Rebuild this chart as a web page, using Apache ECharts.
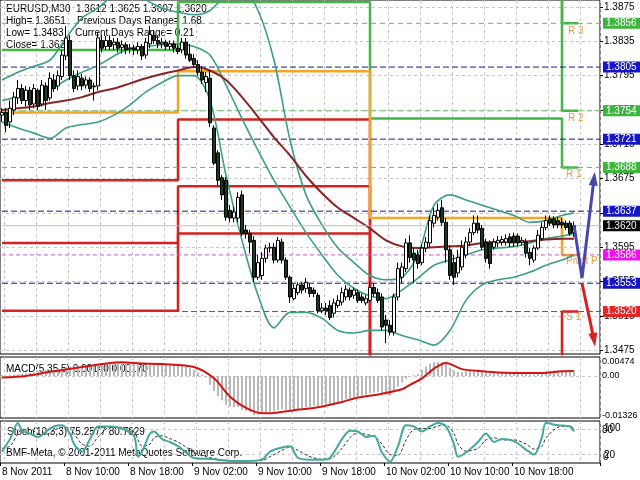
<!DOCTYPE html>
<html><head><meta charset="utf-8">
<script src="https://cdn.jsdelivr.net/npm/echarts@6/dist/echarts.min.js"></script>
<style>html,body{margin:0;padding:0;background:#fff}#c{width:640px;height:480px}</style>
</head><body><div id="c"></div>
<script>
const FONT = '"Liberation Sans", Arial, sans-serif';
// ---- candles (EURUSD M30) ----
const opens=[1.3749,1.3752,1.3741,1.3755,1.3769,1.3780,1.3766,1.3778,1.3762,1.3778,1.3762,1.3783,1.3769,1.3790,1.3783,1.3794,1.3818,1.3836,1.3795,1.3783,1.3792,1.3784,1.3790,1.3782,1.3783,1.3836,1.3829,1.3836,1.3831,1.3834,1.3828,1.3831,1.3826,1.3827,1.3825,1.3829,1.3819,1.3832,1.3842,1.3836,1.3832,1.3834,1.3829,1.3832,1.3827,1.3825,1.3834,1.3820,1.3815,1.3808,1.3799,1.3787,1.3792,1.3734,1.3705,1.3676,1.3673,1.3638,1.3629,1.3629,1.3656,1.3615,1.3611,1.3603,1.3560,1.3562,1.3582,1.3594,1.3595,1.3580,1.3601,1.3580,1.3560,1.3535,1.3542,1.3551,1.3547,1.3548,1.3545,1.3539,1.3521,1.3524,1.3527,1.3518,1.3527,1.3531,1.3537,1.3545,1.3539,1.3542,1.3537,1.3530,1.3533,1.3548,1.3542,1.3537,1.3510,1.3504,1.3496,1.3537,1.3560,1.3570,1.3600,1.3588,1.3586,1.3577,1.3594,1.3600,1.3623,1.3630,1.3641,1.3624,1.3592,1.3577,1.3565,1.3572,1.3586,1.3601,1.3612,1.3623,1.3617,1.3601,1.3600,1.3595,1.3600,1.3601,1.3601,1.3607,1.3608,1.3608,1.3601,1.3601,1.3589,1.3580,1.3594,1.3605,1.3618,1.3628,1.3628,1.3626,1.3624,1.3623,1.3623,1.3612];
const closes=[1.3752,1.3737,1.3757,1.3770,1.3780,1.3766,1.3778,1.3761,1.3780,1.3759,1.3784,1.3766,1.3792,1.3780,1.3795,1.3819,1.3839,1.3795,1.3780,1.3794,1.3783,1.3790,1.3780,1.3783,1.3839,1.3827,1.3836,1.3829,1.3834,1.3827,1.3831,1.3825,1.3827,1.3825,1.3829,1.3818,1.3834,1.3843,1.3836,1.3832,1.3834,1.3829,1.3832,1.3827,1.3823,1.3834,1.3819,1.3813,1.3808,1.3799,1.3790,1.3794,1.3740,1.3693,1.3673,1.3656,1.3630,1.3629,1.3636,1.3653,1.3611,1.3611,1.3601,1.3560,1.3577,1.3582,1.3594,1.3595,1.3580,1.3603,1.3580,1.3560,1.3537,1.3547,1.3551,1.3545,1.3554,1.3541,1.3541,1.3521,1.3524,1.3521,1.3513,1.3530,1.3533,1.3542,1.3546,1.3537,1.3545,1.3533,1.3533,1.3535,1.3548,1.3541,1.3533,1.3502,1.3504,1.3496,1.3537,1.3570,1.3572,1.3600,1.3583,1.3580,1.3576,1.3594,1.3601,1.3626,1.3632,1.3638,1.3624,1.3592,1.3562,1.3560,1.3583,1.3595,1.3601,1.3612,1.3623,1.3615,1.3595,1.3582,1.3576,1.3601,1.3603,1.3604,1.3605,1.3600,1.3600,1.3600,1.3603,1.3588,1.3582,1.3594,1.3609,1.3618,1.3626,1.3623,1.3621,1.3621,1.3621,1.3618,1.3611,1.3620];
const lows=[1.3741,1.3729,1.3734,1.3749,1.3762,1.3762,1.3759,1.3755,1.3757,1.3755,1.3759,1.3755,1.3766,1.3776,1.3778,1.3790,1.3813,1.3790,1.3776,1.3778,1.3778,1.3780,1.3776,1.3766,1.3778,1.3822,1.3825,1.3825,1.3825,1.3822,1.3821,1.3820,1.3821,1.3819,1.3820,1.3813,1.3815,1.3827,1.3832,1.3827,1.3827,1.3825,1.3825,1.3822,1.3820,1.3821,1.3815,1.3811,1.3804,1.3795,1.3785,1.3776,1.3735,1.3691,1.3667,1.3650,1.3626,1.3624,1.3624,1.3624,1.3608,1.3605,1.3588,1.3554,1.3557,1.3557,1.3577,1.3589,1.3576,1.3577,1.3576,1.3557,1.3530,1.3533,1.3539,1.3541,1.3542,1.3537,1.3537,1.3518,1.3518,1.3516,1.3510,1.3513,1.3524,1.3527,1.3533,1.3533,1.3535,1.3530,1.3530,1.3527,1.3531,1.3537,1.3530,1.3498,1.3483,1.3492,1.3492,1.3533,1.3553,1.3566,1.3577,1.3553,1.3570,1.3574,1.3589,1.3595,1.3618,1.3626,1.3620,1.3577,1.3557,1.3551,1.3560,1.3568,1.3582,1.3597,1.3609,1.3611,1.3592,1.3577,1.3570,1.3592,1.3595,1.3597,1.3597,1.3595,1.3595,1.3596,1.3597,1.3583,1.3574,1.3577,1.3592,1.3603,1.3615,1.3620,1.3617,1.3617,1.3617,1.3615,1.3608,1.3607];
const highs=[1.3757,1.3757,1.3766,1.3776,1.3790,1.3785,1.3783,1.3782,1.3785,1.3780,1.3790,1.3787,1.3799,1.3797,1.3801,1.3825,1.3853,1.3842,1.3801,1.3801,1.3797,1.3794,1.3793,1.3787,1.3846,1.3842,1.3841,1.3842,1.3839,1.3839,1.3836,1.3834,1.3832,1.3831,1.3834,1.3832,1.3839,1.3853,1.3848,1.3841,1.3839,1.3837,1.3836,1.3836,1.3831,1.3839,1.3839,1.3832,1.3820,1.3813,1.3806,1.3799,1.3801,1.3737,1.3708,1.3679,1.3677,1.3644,1.3642,1.3659,1.3661,1.3621,1.3615,1.3608,1.3586,1.3589,1.3598,1.3600,1.3600,1.3607,1.3605,1.3583,1.3562,1.3552,1.3554,1.3554,1.3559,1.3553,1.3548,1.3542,1.3530,1.3530,1.3533,1.3535,1.3539,1.3548,1.3551,1.3548,1.3548,1.3546,1.3541,1.3539,1.3554,1.3553,1.3547,1.3541,1.3516,1.3510,1.3541,1.3577,1.3577,1.3605,1.3609,1.3594,1.3592,1.3598,1.3607,1.3632,1.3641,1.3646,1.3650,1.3629,1.3597,1.3586,1.3592,1.3603,1.3607,1.3617,1.3632,1.3632,1.3621,1.3605,1.3603,1.3605,1.3608,1.3608,1.3610,1.3611,1.3612,1.3611,1.3607,1.3605,1.3594,1.3597,1.3615,1.3624,1.3632,1.3632,1.3631,1.3630,1.3629,1.3626,1.3626,1.3625];
const timeLabels=['8 Nov 2011','8 Nov 10:00','8 Nov 18:00','9 Nov 02:00','9 Nov 10:00','9 Nov 18:00','10 Nov 02:00','10 Nov 10:00','10 Nov 18:00'];
const priceTicks=[1.3475,1.3515,1.3555,1.3595,1.3635,1.3675,1.3715,1.3755,1.3795,1.3835,1.3875];
// ---- moving average & bollinger bands (sampled every 4 bars) ----
const sampleIdx=[0,4,8,12,16,20,24,28,32,36,40,44,48,52,56,60,64,68,72,76,80,84,88,92,96,100,104,108,112,116,120,124,128,132,136,140,143];
const maVals=[1.3755,1.3757,1.3759,1.3763,1.3766,1.3770,1.3776,1.3780,1.3786,1.3792,1.3797,1.3801,1.3805,1.3801,1.3790,1.3770,1.3747,1.3723,1.3702,1.3678,1.3658,1.3641,1.3629,1.3617,1.3603,1.3596,1.3594,1.3595,1.3596,1.3597,1.3600,1.3601,1.3601,1.3602,1.3604,1.3605,1.3605];
const bbUpper=[1.3790,1.3799,1.3806,1.3813,1.3839,1.3862,1.3874,1.3889,1.3895,1.3883,1.3874,1.3869,1.3866,1.3871,1.3889,1.3895,1.3871,1.3813,1.3720,1.3656,1.3621,1.3594,1.3577,1.3562,1.3557,1.3560,1.3586,1.3644,1.3656,1.3650,1.3644,1.3638,1.3632,1.3624,1.3626,1.3632,1.3635];
const bbMid=[1.3766,1.3770,1.3773,1.3778,1.3790,1.3799,1.3807,1.3818,1.3827,1.3829,1.3831,1.3832,1.3829,1.3819,1.3784,1.3745,1.3708,1.3673,1.3642,1.3612,1.3586,1.3562,1.3547,1.3538,1.3535,1.3545,1.3559,1.3574,1.3580,1.3586,1.3592,1.3594,1.3596,1.3600,1.3605,1.3608,1.3611];
const bbLower=[1.3741,1.3734,1.3728,1.3722,1.3734,1.3738,1.3741,1.3749,1.3761,1.3776,1.3787,1.3795,1.3795,1.3766,1.3679,1.3603,1.3539,1.3501,1.3519,1.3519,1.3512,1.3498,1.3495,1.3498,1.3498,1.3492,1.3487,1.3481,1.3498,1.3533,1.3551,1.3557,1.3560,1.3566,1.3574,1.3580,1.3586];
// ---- daily pivots (8, 9, 10, 11 Nov) ----
const dayStart=[-0.5,44,92,140];
const pivotEnd=143.75;
const pivotP=[1.3752,1.3800,1.3629,1.3586];
const pivR1=[1.3825,1.3881,1.3745,1.3688];
const pivR2=[1.3900,1.3960,1.3999,1.3754];
const pivR3=[1.3970,1.4040,1.4115,1.3856];
const pivS1=[1.3673,1.3744,1.3405,1.3520];
const pivS2=[1.3600,1.3666,1.3260,1.3450];
const pivS3=[1.3521,1.3611,1.3150,1.3350];
// ---- horizontal levels ----
const blueLevels=[1.3805,1.3721,1.3637,1.3553];
const greenLevels=[1.3856,1.3754,1.3688];
const magentaLevels=[1.3586];
const redLevels=[1.3520];
const lastPrice=[1.3620];
// ---- drawn arrows ----
const blueArrow=[[143.25,1.3621],[145.25,1.3559],[148,1.3675]];
const redArrow=[[145.25,1.3553],[147.5,1.3487]];
// ---- MACD(5,35,5) ----
const macdHist=[0.0002,0.0001,0.0003,0.0005,0.0006,0.0007,0.0008,0.0010,
0.0012,0.0014,0.0016,0.0018,0.0020,0.0022,0.0024,0.0027,
0.0030,0.0031,0.0032,0.0033,0.0034,0.0035,0.0036,0.0037,
0.0040,0.0043,0.0045,0.0046,0.0046,0.0045,0.0044,0.0043,
0.0042,0.0041,0.0040,0.0038,0.0039,0.0041,0.0041,0.0040,
0.0039,0.0038,0.0037,0.0036,0.0034,0.0033,0.0030,0.0026,
0.0020,0.0012,0.0004,-0.0004,-0.0030,-0.0050,-0.0068,-0.0082,
-0.0097,-0.0103,-0.0106,-0.0105,-0.0114,-0.0118,-0.0121,-0.01326,
-0.0131,-0.0128,-0.0124,-0.0121,-0.0119,-0.0115,-0.0112,-0.0115,
-0.0120,-0.0117,-0.0113,-0.0110,-0.0106,-0.0104,-0.0101,-0.0102,
-0.0100,-0.0097,-0.0096,-0.0092,-0.0088,-0.0083,-0.0078,-0.0075,
-0.0071,-0.0068,-0.0066,-0.0063,-0.0058,-0.0056,-0.0055,-0.0062,
-0.0064,-0.0066,-0.0052,-0.0036,-0.0022,-0.0010,-0.0003,0.0002,
0.0006,0.0020,0.0032,0.0041,0.0046,0.00474,0.0046,0.0040,
0.0028,0.0018,0.0014,0.0013,0.0014,0.0017,0.0020,0.0021,
0.0018,0.0012,0.0008,0.0008,0.0009,0.0010,0.0011,0.0012,
0.0012,0.0012,0.0012,0.0009,0.0005,0.0005,0.0008,0.0012,
0.0016,0.0017,0.0018,0.0018,0.0017,0.0016,0.0013,0.0014];
const sigIdx=[0,6,12,20,27,30,35,40,48,53,57,61,65,68,73,79,85,88,95,100,102,105,108,111,115,120,124,132,135,140,143];
const sigVals=[-0.0005,0.0000,0.0014,0.0030,0.0044,0.0046,0.0042,0.0040,0.0030,-0.0008,-0.0070,-0.0108,-0.0126,-0.0125,-0.0116,-0.0106,-0.0088,-0.0076,-0.0060,-0.0045,-0.0030,-0.0008,0.0025,0.0044,0.0023,0.0016,0.0012,0.0010,0.0010,0.0016,0.0017];
const macdLabels=[0.00474,0,-0.01326];
// ---- Stochastic(10,3,3) ----
const stochIdx=[0,2,4,5,7,9,11,13,15,17,18,20,22,24,27,30,33,34,35,37,38,40,42,44,46,48,51,54,57,61,65,67,70,72,74,77,80,82,85,87,89,91,93,95,97,99,101,103,105,107,109,111,113,114,116,119,121,123,125,128,131,133,135,136,139,142,143];
const stochMain=[27,57,95,78,70,62,75,87,90,70,45,27,57,87,87,82,65,15,27,70,75,57,50,40,25,12,10,8,5,5,8,27,37,40,12,8,8,12,57,77,75,62,65,25,3,40,90,87,75,87,95,87,45,15,25,50,70,50,57,52,32,20,62,95,90,87,75];
const stochSignal=[35,40,70,80,80,70,68,78,85,82,70,45,40,62,85,85,75,55,40,45,60,65,58,50,38,25,15,9,6,5,6,15,30,38,30,15,9,10,35,60,72,68,64,45,20,18,55,80,82,82,88,90,70,45,28,35,55,60,55,55,45,33,40,60,85,88,81];
const stochLabels=['100','80','20','0'];

const NB=opens.length, SHIFT=6;
const cats=[]; for(let i=0;i<NB+SHIFT;i++) cats.push('b'+i);
const candleData=opens.map((o,i)=>[o,closes[i],lows[i],highs[i]]);
const pairs=(idx,vals)=>idx.map((x,k)=>[x,vals[k]]);
const stepData=arr=>dayStart.map((d,k)=>[d,arr[k]]).concat([[pivotEnd,arr[arr.length-1]]]);
const X0=-0.5, X1=NB+SHIFT-0.5;

const gridLine={color:'#c6c6c6',type:[3,3],width:1};
const vSplit={show:true,interval:(i)=>i%8===1,lineStyle:gridLine};
const labIv=(i)=>i%16===0&&i<=128;
function xAx(gi,lab){
  return {type:'category',gridIndex:gi,data:cats,boundaryGap:true,
    axisLine:{show:false},
    axisTick:lab?{show:true,interval:labIv,length:3,lineStyle:{color:'#000'}}:{show:false},
    axisLabel:lab?{show:true,interval:labIv,formatter:(v,i)=>timeLabels[i/16],align:'left',color:'#000',fontSize:10,fontFamily:FONT,margin:4}:{show:false},
    splitLine:vSplit};
}
// each horizontal level drawn as a full-width line series with a price box at its end
const levelSeries=(vals,line,bg,dash,z)=>vals.map(v=>({type:'line',xAxisIndex:0,yAxisIndex:0,
  data:[[X0,v],[X1,v]],showSymbol:false,silent:true,z:z||2,clip:false,
  lineStyle:{color:line,type:dash,width:1},
  endLabel:{show:true,distance:2,formatter:()=>v.toFixed(4),color:'#fff',backgroundColor:bg,fontSize:10,fontFamily:FONT,padding:[1,4,0,3]}}));
const pivSeries=(arr,color)=>({type:'line',xAxisIndex:0,yAxisIndex:0,data:stepData(arr),step:'end',showSymbol:false,
  lineStyle:{color,width:2.5},z:1,silent:true});
const txt=(t,x,y)=>({type:'text',x,y,z:0,style:{text:t,font:'10px '+FONT,fill:'#000',verticalAlign:'middle'}});
const pivTxt=(t,x,y)=>({type:'text',x,y,z:1,style:{text:t,font:'10px '+FONT,fill:'#e0a048',verticalAlign:'middle'}});
const axTxt=(t,x,y)=>({type:'text',x,y,z:5,style:{text:t,font:'10px '+FONT,fill:'#000',verticalAlign:'middle'}});

const option={
  animation:false,
  backgroundColor:'#fff',
  grid:[
    {left:0,top:0,width:600,height:354,show:true,borderColor:'#000',borderWidth:1,backgroundColor:'transparent',outerBoundsMode:'none'},
    {left:0,top:357,width:600,height:61,show:true,borderColor:'#000',borderWidth:1,backgroundColor:'transparent',outerBoundsMode:'none'},
    {left:0,top:421,width:600,height:42,show:true,borderColor:'#000',borderWidth:1,backgroundColor:'transparent',outerBoundsMode:'none'}
  ],
  xAxis:[xAx(0,false),xAx(1,false),xAx(2,true)],
  yAxis:[
    {type:'value',gridIndex:0,position:'right',min:1.34705,max:1.38832,scale:true,
     axisLine:{show:false},
     axisTick:{show:true,customValues:priceTicks,length:3,lineStyle:{color:'#000'}},
     axisLabel:{customValues:priceTicks,formatter:v=>v.toFixed(4),color:'#000',fontSize:10,fontFamily:FONT,margin:4},
     splitLine:{show:true,lineStyle:gridLine}},
    {type:'value',gridIndex:1,position:'right',min:-0.0142,max:0.0064,
     axisLine:{show:false},
     axisTick:{show:false,customValues:[0]},
     axisLabel:{customValues:macdLabels,formatter:v=>v===0?'0.00':v.toFixed(5),color:'#000',fontSize:9,fontFamily:FONT,margin:2,hideOverlap:false},
     splitLine:{show:true,lineStyle:gridLine}},
    {type:'value',gridIndex:2,position:'right',min:0,max:100,
     axisLine:{show:false},
     axisTick:{show:false,customValues:[20,80]},
     axisLabel:{show:false},
     splitLine:{show:true,lineStyle:gridLine}}
  ],
  graphic:[
    txt('EURUSD,M30  1.3612 1.3625 1.3607 1.3620',6,9),
    txt('High= 1.3651',6,21), txt('Previous Days Range= 1.68',77,21),
    txt('Low= 1.3483',6,33), txt('Current Days Range= 0.21',75,33),
    txt('Close= 1.3620',6,45),
    txt('MACD(5,35,5) 0.00140 0.00170',6,369),
    txt('Stoch(10,3,3) 75.2577 80.7929',7,432),
    txt('BMF-Meta, \u00a9 2001-2011 MetaQuotes Software Corp.',6,453),
    pivTxt('R 3',568,31), pivTxt('R 2',568,118), pivTxt('R 1',566,174),
    pivTxt('Pivot P',566,261), pivTxt('S 1',566,317),
    axTxt(stochLabels[0],604,428), axTxt(stochLabels[1],602,430),
    axTxt(stochLabels[2],604,455), axTxt(stochLabels[3],603,457)
  ],
  series:[].concat(
    [pivSeries(pivS3,'#d42222'),pivSeries(pivS2,'#d42222'),pivSeries(pivS1,'#d42222'),
     pivSeries(pivR3,'#45b545'),pivSeries(pivR2,'#45b545'),pivSeries(pivR1,'#45b545'),
     pivSeries(pivotP,'#f2a628')],
    levelSeries(blueLevels,'#1a1a8c','#1616c4',[6,3]),
    levelSeries(greenLevels,'#62bc62','#3db53d',[5,4]),
    levelSeries(magentaLevels,'#cc55cc','#ee10ee',[4,3]),
    levelSeries(redLevels,'#c03030','#e02626',[6,3]),
    levelSeries(lastPrice,'#bdbdbd','#000000','solid',3),
    [
    {type:'line',xAxisIndex:0,yAxisIndex:0,data:pairs(sampleIdx,bbUpper),smooth:0.3,showSymbol:false,lineStyle:{color:'#3c9e86',width:1.6},z:2,silent:true},
    {type:'line',xAxisIndex:0,yAxisIndex:0,data:pairs(sampleIdx,bbMid),smooth:0.3,showSymbol:false,lineStyle:{color:'#3c9e86',width:1.6},z:2,silent:true},
    {type:'line',xAxisIndex:0,yAxisIndex:0,data:pairs(sampleIdx,bbLower),smooth:0.3,showSymbol:false,lineStyle:{color:'#3c9e86',width:1.6},z:2,silent:true},
    {type:'line',xAxisIndex:0,yAxisIndex:0,data:pairs(sampleIdx,maVals),smooth:0.3,showSymbol:false,lineStyle:{color:'#8a2424',width:2},z:2,silent:true},
    {type:'candlestick',xAxisIndex:0,yAxisIndex:0,data:candleData,barWidth:3,z:3,silent:true,
     itemStyle:{color:'#ffffff',color0:'#1b3a1b',borderColor:'#000',borderColor0:'#000',borderWidth:1}},
    {type:'line',xAxisIndex:0,yAxisIndex:0,showAllSymbol:true,z:4,silent:true,
     data:blueArrow.map((p,k)=>k===blueArrow.length-1?{value:p,symbol:'triangle',symbolSize:[9,14],symbolRotate:-6}:{value:p,symbol:'none'}),
     lineStyle:{color:'#4848ac',width:3},itemStyle:{color:'#4848ac'}},
    {type:'line',xAxisIndex:0,yAxisIndex:0,showAllSymbol:true,z:4,silent:true,
     data:redArrow.map((p,k)=>k===redArrow.length-1?{value:p,symbol:'triangle',symbolSize:[9,14],symbolRotate:189}:{value:p,symbol:'none'}),
     lineStyle:{color:'#d82222',width:3},itemStyle:{color:'#d82222'}},
    {type:'bar',xAxisIndex:1,yAxisIndex:1,data:macdHist,barWidth:2,itemStyle:{color:'#b8b8b8'},silent:true},
    {type:'line',xAxisIndex:1,yAxisIndex:1,data:pairs(sigIdx,sigVals),smooth:0.3,showSymbol:false,lineStyle:{color:'#d01515',width:2},silent:true},
    {type:'line',xAxisIndex:2,yAxisIndex:2,data:pairs(stochIdx,stochSignal),smooth:0.3,showSymbol:false,lineStyle:{color:'#333',width:1,type:[3,2]},silent:true},
    {type:'line',xAxisIndex:2,yAxisIndex:2,data:pairs(stochIdx,stochMain),smooth:0.3,showSymbol:false,lineStyle:{color:'#45a8a0',width:2},silent:true}
    ])
};
const chart=echarts.init(document.getElementById('c'),null,{renderer:'canvas',width:640,height:480});
chart.setOption(option);
</script></body></html>
